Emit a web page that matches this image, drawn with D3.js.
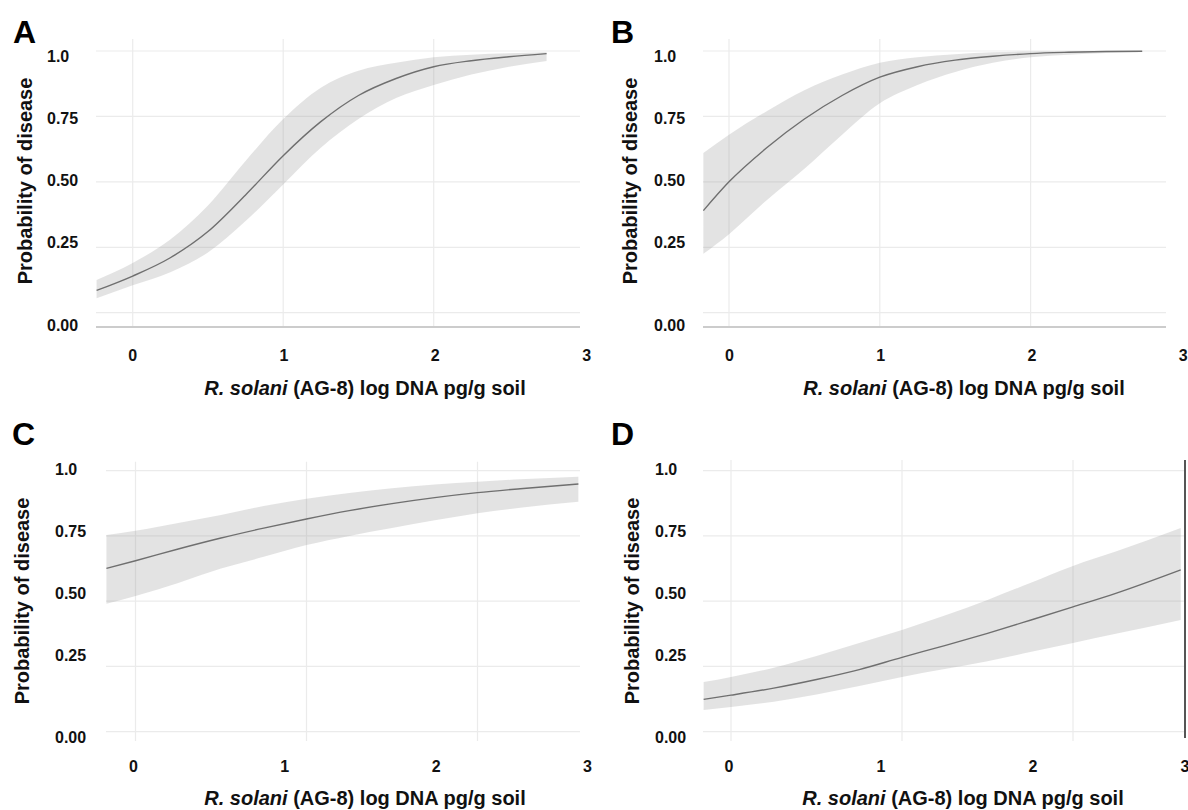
<!DOCTYPE html>
<html>
<head>
<meta charset="utf-8">
<script src="https://cdn.jsdelivr.net/npm/d3@7"></script>
<style>
  html, body { margin: 0; padding: 0; background: #fff; }
  svg { display: block; font-family: "Liberation Sans", Arial, Helvetica, sans-serif; }
</style>
</head>
<body>
<svg id="fig" width="1188" height="810"></svg>
<script>
// ---- data (x = log DNA pg/g soil, values = probability of disease) ----

// panel A
var xA   = [-0.24, 0, 0.25, 0.5, 0.75, 1, 1.25, 1.5, 1.75, 2, 2.25, 2.5, 2.75];
var fitA = [0.085, 0.14, 0.21, 0.31, 0.45, 0.60, 0.73, 0.83, 0.895, 0.94, 0.963, 0.978, 0.99];
var hiA  = [0.125, 0.19, 0.28, 0.41, 0.58, 0.74, 0.86, 0.925, 0.955, 0.976, 0.986, 0.991, 0.995];
var loA  = [0.055, 0.105, 0.155, 0.23, 0.35, 0.49, 0.63, 0.74, 0.82, 0.87, 0.91, 0.94, 0.962];

// panel B
var xB   = [-0.17, 0, 0.25, 0.5, 0.75, 1, 1.25, 1.5, 1.75, 2, 2.25, 2.5, 2.74];
var fitB = [0.39, 0.50, 0.63, 0.74, 0.83, 0.90, 0.94, 0.965, 0.98, 0.99, 0.995, 0.998, 0.999];
var hiB  = [0.61, 0.68, 0.77, 0.85, 0.91, 0.955, 0.976, 0.988, 0.995, 0.998, 0.999, 1.0, 1.0];
var loB  = [0.225, 0.30, 0.43, 0.55, 0.68, 0.80, 0.87, 0.92, 0.955, 0.976, 0.986, 0.992, 0.996];

// panel C
var xC   = [-0.17, 0, 0.25, 0.5, 0.75, 1, 1.25, 1.5, 1.75, 2, 2.25, 2.59];
var fitC = [0.626, 0.655, 0.70, 0.742, 0.78, 0.815, 0.847, 0.874, 0.897, 0.916, 0.931, 0.949];
var hiC  = [0.754, 0.77, 0.80, 0.83, 0.865, 0.893, 0.915, 0.933, 0.947, 0.958, 0.967, 0.977];
var loC  = [0.49, 0.52, 0.57, 0.625, 0.67, 0.715, 0.75, 0.78, 0.81, 0.837, 0.858, 0.881];

// panel D
var xD   = [-0.16, 0, 0.25, 0.5, 0.75, 1, 1.25, 1.5, 1.75, 2, 2.25, 2.63];
var fitD = [0.124, 0.14, 0.167, 0.20, 0.238, 0.285, 0.33, 0.377, 0.427, 0.478, 0.53, 0.62];
var hiD  = [0.19, 0.21, 0.245, 0.29, 0.34, 0.39, 0.445, 0.505, 0.57, 0.635, 0.69, 0.78];
var loD  = [0.083, 0.095, 0.115, 0.143, 0.175, 0.21, 0.24, 0.27, 0.305, 0.34, 0.375, 0.428];

// axes
var yTicks      = [0, 0.25, 0.5, 0.75, 1];
var yTickLabels = ["0.00", "0.25", "0.50", "0.75", "1.0"];
var xGrid       = [0, 1, 2];
var xTickLabels = ["0", "1", "2", "3"];
var yTitle = "Probability of disease";

// ---- layout of the four panels (pixels) ----
var panels = [
  { letter: "A", x: xA, fit: fitA, hi: hiA, lo: loA,
    left: 96, right: 580, grid0: 132.7, gridUnit: 150.5, tick0: 132.7, tickUnit: 151.3,
    top: 51, zero: 312.7, vTop: 39, vBottom: 327, axisY: 327, border: null,
    lab1: 56, lab025: 242, lab0: 325, labX: 47, tickY: 361,
    titleX: 25, titleY: 181, xTitleX: 365, xTitleY: 395, letterX: 13, letterY: 43 },
  { letter: "B", x: xB, fit: fitB, hi: hiB, lo: loB,
    left: 703, right: 1166, grid0: 729, gridUnit: 150.8, tick0: 729.5, tickUnit: 151.2,
    top: 51, zero: 312.7, vTop: 39, vBottom: 327, axisY: 327, border: null,
    lab1: 56, lab025: 242, lab0: 325, labX: 654, tickY: 361,
    titleX: 630, titleY: 181, xTitleX: 964, xTitleY: 395, letterX: 611, letterY: 43 },
  { letter: "C", x: xC, fit: fitC, hi: hiC, lo: loC,
    left: 106, right: 580, grid0: 135.5, gridUnit: 171, tick0: 133.5, tickUnit: 151.3,
    top: 470.7, zero: 731.7, vTop: 461.7, vBottom: 741, axisY: null, border: null,
    lab1: 469, lab025: 655, lab0: 737, labX: 55, tickY: 772,
    titleX: 22, titleY: 601, xTitleX: 365, xTitleY: 805, letterX: 12, letterY: 445 },
  { letter: "D", x: xD, fit: fitD, hi: hiD, lo: loD,
    left: 703, right: 1184, grid0: 731, gridUnit: 171, tick0: 729, tickUnit: 152,
    top: 470.7, zero: 731.7, vTop: 460, vBottom: 741, axisY: null, border: 1185,
    lab1: 469, lab025: 655, lab0: 737, labX: 655, tickY: 772,
    titleX: 632, titleY: 601, xTitleX: 963, xTitleY: 805, letterX: 611, letterY: 445 }
];

var svg = d3.select("#fig");

panels.forEach(function(p) {
  var g = svg.append("g").attr("class", "panel-" + p.letter);

  var x  = d3.scaleLinear().domain([0, 1]).range([p.grid0, p.grid0 + p.gridUnit]);
  var y  = d3.scaleLinear().domain([0, 1]).range([p.zero, p.top]);
  var xl = d3.scaleLinear().domain([0, 1]).range([p.tick0, p.tick0 + p.tickUnit]);
  var yl = d3.scaleLinear().domain([0.25, 1]).range([p.lab025, p.lab1]);

  //grid
  g.selectAll("line.hgrid").data(yTicks).enter().append("line")
    .attr("x1", p.left).attr("x2", p.right)
    .attr("y1", function(d) { return y(d); }).attr("y2", function(d) { return y(d); })
    .attr("stroke", "#ebebeb").attr("stroke-width", 1.2);

  g.selectAll("line.vgrid").data(xGrid).enter().append("line")
    .attr("x1", function(d) { return x(d); }).attr("x2", function(d) { return x(d); })
    .attr("y1", p.vTop).attr("y2", p.vBottom)
    .attr("stroke", "#ebebeb").attr("stroke-width", 1.2);

  var pts = p.x.map(function(v, i) { return { x: v, fit: p.fit[i], hi: p.hi[i], lo: p.lo[i] }; });

  //confidence band
  var area = d3.area()
    .x(function(d) { return x(d.x); })
    .y0(function(d) { return y(d.lo); })
    .y1(function(d) { return y(d.hi); })
    .curve(d3.curveMonotoneX);
  g.append("path").datum(pts)
    .attr("d", area)
    .attr("fill", "#999").attr("fill-opacity", 0.27);

  //fitted curve
  var line = d3.line()
    .x(function(d) { return x(d.x); })
    .y(function(d) { return y(d.fit); })
    .curve(d3.curveMonotoneX);
  g.append("path").datum(pts)
    .attr("d", line)
    .attr("fill", "none").attr("stroke", "#6f6f6f").attr("stroke-width", 1.4);

  if (p.axisY !== null) {
    g.append("line")
      .attr("x1", p.left).attr("x2", p.right)
      .attr("y1", p.axisY).attr("y2", p.axisY)
      .attr("stroke", "#cccccc").attr("stroke-width", 2);
  }
  if (p.border !== null) {
    g.append("line")
      .attr("x1", p.border).attr("x2", p.border)
      .attr("y1", p.vTop).attr("y2", p.vBottom - 3)
      .attr("stroke", "#555").attr("stroke-width", 2);
  }

  //y tick labels
  g.selectAll("text.ylab").data(yTicks).enter().append("text")
    .attr("x", p.labX)
    .attr("y", function(d) { return d === 0 ? p.lab0 : yl(d); })
    .attr("dy", "0.35em")
    .attr("font-size", 16).attr("font-weight", "bold").attr("fill", "#111")
    .text(function(d, i) { return yTickLabels[i]; });

  //x tick labels
  g.selectAll("text.xlab").data(xTickLabels).enter().append("text")
    .attr("x", function(d, i) { return xl(i); })
    .attr("y", p.tickY)
    .attr("text-anchor", "middle")
    .attr("font-size", 16).attr("font-weight", "bold").attr("fill", "#111")
    .text(function(d) { return d; });

  //axis titles
  g.append("text")
    .attr("transform", "translate(" + p.titleX + "," + p.titleY + ") rotate(-90)")
    .attr("text-anchor", "middle").attr("dy", "0.35em")
    .attr("font-size", 20).attr("font-weight", "bold").attr("fill", "#111")
    .text(yTitle);

  var xt = g.append("text")
    .attr("x", p.xTitleX).attr("y", p.xTitleY)
    .attr("text-anchor", "middle")
    .attr("font-size", 20).attr("font-weight", "bold").attr("fill", "#111");
  xt.append("tspan").attr("font-style", "italic").text("R. solani");
  xt.append("tspan").text(" (AG-8) log DNA pg/g soil");

  //panel letter
  g.append("text")
    .attr("x", p.letterX).attr("y", p.letterY)
    .attr("font-size", 32).attr("font-weight", "bold").attr("fill", "#000")
    .text(p.letter);
});
</script>
</body>
</html>
